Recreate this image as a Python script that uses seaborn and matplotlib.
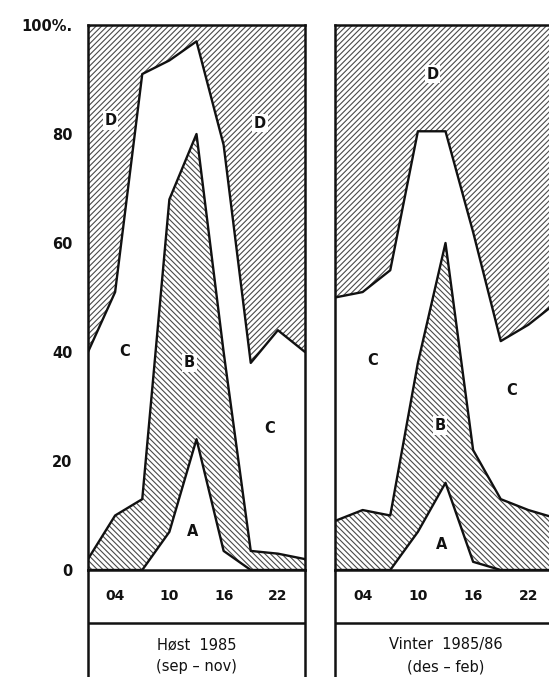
import numpy as np
import pandas as pd
import matplotlib
matplotlib.use("Agg")
import matplotlib.pyplot as plt
import seaborn as sns

# ---- data (percent of total, per 3-hour slot) ----
hours = [1, 4, 7, 10, 13, 16, 19, 22, 25]
xtick_vals = [4, 10, 16, 22]
xtick_labels = ["04", "10", "16", "22"]
ytick_vals = [0, 20, 40, 60, 80, 100]
ytick_labels = ["0", "20", "40", "60", "80", "100%."]

# Høst 1985 (sep-nov)
host_A = [0, 0, 0, 7, 24, 3.5, 0, 0, 0]
host_B = [2, 10, 13, 61, 56, 36.5, 3.5, 3, 2]
host_C = [38, 41, 78, 25.5, 17, 38, 34.5, 41, 38]
host_D = [60, 49, 9, 6.5, 3, 22, 62, 56, 60]

# Vinter 1985/86 (des-feb)
vinter_A = [0, 0, 0, 7, 16, 1.5, 0, 0, 0]
vinter_B = [9, 11, 10, 31, 44, 20.5, 13, 11, 9.5]
vinter_C = [41, 40, 45, 42.5, 20.5, 40, 29, 34, 39.5]
vinter_D = [50, 49, 45, 19.5, 19.5, 38, 58, 55, 51]

panel_titles = [("Høst  1985", "(sep – nov)"), ("Vinter  1985/86", "(des – feb)")]

sns.set_style("white")
plt.rcParams["font.family"] = ["DejaVu Sans"]
plt.rcParams["hatch.linewidth"] = 0.8

W, H = 549, 677
fig = plt.figure(figsize=(W / 100, H / 100), dpi=100)

def fx(px):
    return px / W

def fy(py):
    return (H - py) / H

panels = [
    dict(x0=88, w=217, A=host_A, B=host_B, C=host_C, D=host_D, ylab=True,
         labels=[("D", 3.5, 82.5), ("D", 20.0, 82.0), ("C", 5.0, 40.0), ("B", 12.2, 38.0),
                 ("C", 21.1, 26.0), ("A", 12.6, 7.0)]),
    dict(x0=335, w=221, A=vinter_A, B=vinter_B, C=vinter_C, D=vinter_D, ylab=False,
         labels=[("D", 11.6, 91.0), ("C", 5.1, 38.5), ("C", 20.2, 33.0), ("B", 12.4, 26.5),
                 ("A", 12.6, 4.6)]),
]

hatch_col = "#4a4a4a"
for i, p in enumerate(panels):
    ax = fig.add_axes([fx(p["x0"]), fy(570), fx(p["w"]), (570 - 25) / H])
    x = np.array(hours, dtype=float)
    a = np.array(p["A"], dtype=float)
    ab = a + np.array(p["B"], dtype=float)
    abc = ab + np.array(p["C"], dtype=float)
    top = abc + np.array(p["D"], dtype=float)

    ax.fill_between(x, 0, a, facecolor="white", linewidth=0)
    ax.fill_between(x, a, ab, facecolor="white", edgecolor=hatch_col, hatch="\\\\\\\\\\\\", linewidth=0)
    ax.fill_between(x, ab, abc, facecolor="white", linewidth=0)
    ax.fill_between(x, abc, top, facecolor="white", edgecolor=hatch_col, hatch="//////", linewidth=0)

    for yy in (a, ab, abc):
        sns.lineplot(x=x, y=yy, ax=ax, color="#111111", linewidth=1.7, legend=False)

    for s, xx, yy in p["labels"]:
        ax.text(xx, yy, s, ha="center", va="center", fontsize=10.5, fontweight="bold",
                color="#111111",
                bbox=dict(boxstyle="square,pad=0.12", facecolor="white", edgecolor="none"))

    ax.set_xlim(1, 25)
    ax.set_ylim(0, 100)
    ax.set_xticks(xtick_vals)
    ax.set_xticklabels(xtick_labels, fontsize=10, fontweight="bold")
    ax.tick_params(axis="x", direction="out", length=7, width=1.5, pad=7, colors="#111111")
    if p["ylab"]:
        ax.set_yticks(ytick_vals)
        ax.set_yticklabels(ytick_labels, fontsize=10.5, fontweight="bold")
        ax.tick_params(axis="y", direction="out", length=9, width=1.5, pad=2, colors="#111111")
    else:
        ax.set_yticks([])
    ax.set_xlabel("")
    ax.set_ylabel("")
    for side in ("left", "right", "top", "bottom"):
        ax.spines[side].set_visible(True)
        ax.spines[side].set_linewidth(1.8)
        ax.spines[side].set_color("#111111")
    ax.set_facecolor("white")

    # label box under the panel
    bx = fig.add_axes([fx(p["x0"]), 0, fx(p["w"]), fy(570)], zorder=-1)
    bx.set_xlim(0, 1)
    bx.set_ylim(0, H - 570)
    bx.set_xticks([])
    bx.set_yticks([])
    bx.set_facecolor("none")
    for side in ("top", "bottom"):
        bx.spines[side].set_visible(False)
    for side in ("left", "right"):
        bx.spines[side].set_visible(True)
        bx.spines[side].set_linewidth(1.8)
        bx.spines[side].set_color("#111111")
    bx.axhline(H - 623, color="#111111", linewidth=1.8)
    t1, t2 = panel_titles[i]
    bx.text(0.5, H - 645, t1, ha="center", va="center", fontsize=10.5, color="#111111")
    bx.text(0.5, H - 667, t2, ha="center", va="center", fontsize=10.5, color="#111111")

fig.savefig("out.png", dpi=100, facecolor="white")
